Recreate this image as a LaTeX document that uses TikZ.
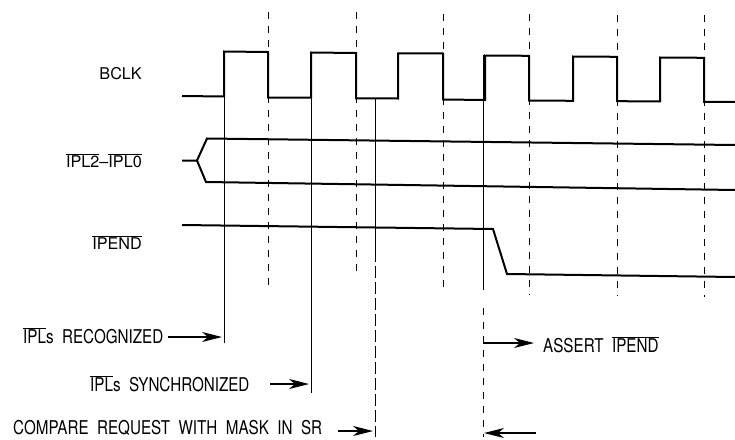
\documentclass[tikz,border=0pt]{standalone}
\usepackage{fontspec}
\setmainfont{TeX Gyre Heros}
\newfontfamily\condfont{TeX Gyre Heros}[WordSpace=2.0]
\usetikzlibrary{arrows.meta}
\newcommand\ovl[1]{\ensuremath{\overline{\mbox{#1}}}}
\newcommand\cond[1]{\scalebox{0.8}[1]{#1}}
\begin{document}
\begin{tikzpicture}[x=1pt,y=-1pt,
  sig/.style={line width=2pt,line join=miter},
  guide/.style={line width=0.9pt},
  tick/.style={line width=0.9pt,dash pattern=on 7pt off 7pt},
  loosedash/.style={line width=0.9pt,dash pattern=on 12pt off 4pt},
  tip/.style={line width=1.1pt,-{Stealth[length=20pt,width=10pt,inset=6pt]}},
  lab/.style={anchor=base east,inner sep=0pt,font=\fontsize{16.2}{18}\selectfont},
  blab/.style={anchor=base west,inner sep=0pt,font=\condfont\fontsize{19}{21}\selectfont}]
\useasboundingbox (0,0) rectangle (735,439);

% labels
\node[lab] (bclk) at (142,79) {BCLK};
\node[lab] (ipl) at (142,167) {\ovl{IPL2}--\ovl{IPL0}};
\node[lab] (ipend) at (142,249) {\ovl{IPEND}};

% dashed reference lines at falling edges
\draw[tick] (268,12) -- (268,290);
\draw[tick] (356,12) -- (356,277);
\draw[tick] (443,14) -- (443,292);
\draw[tick] (529,14) -- (529,295);
\draw[tick] (617,15) -- (617,296);
\draw[tick] (704,15) -- (704,297);

% solid reference lines
\coordinate (r1) at (224,343);
\coordinate (r2) at (311,393);
\draw[guide] (224,52) -- (r1);
\draw[guide] (311,53) -- (r2);
\draw[guide] (375,98) -- (375,250);
\draw[loosedash] (375,250) -- (375,437);
\draw[guide] (483,55) -- (483,290);
\draw[tick] (483,308) -- (483,437);

% BCLK
\draw[sig] (182,96) -- (224,96.5) -- (224,51.5) -- (268,52) -- (268,97.5) -- (311,97.7)
  -- (311,52.5) -- (356,53) -- (356,98.3) -- (398,98.5) -- (398,53.3) -- (443,53.5)
  -- (443,99.5) -- (485,100) -- (485,55.5) -- (529,55.8) -- (529,100.5) -- (573,100.8)
  -- (573,56.5) -- (617,56.8) -- (617,101.2) -- (660,101.4) -- (660,57.5) -- (704,57.8)
  -- (704,101.8) -- (735,102);

% IPL2-IPL0 bus
\draw[sig] (182,160.5) -- (197,160.5) -- (207,138.5) -- (735,145);
\draw[sig] (197,160.5) -- (206,182) -- (735,190);

% IPEND
\draw[sig] (182,225) -- (493,229) -- (507,274) -- (735,277);

% bottom annotations
\node[blab] (rec) at (23,343) {\cond{\ovl{IPL}s RECOGNIZED}};
\node[blab] (syn) at (90,391) {\cond{\ovl{IPL}s SYNCHRONIZED}};
\node[blab] (cmp) at (13,434) {\cond{COMPARE REQUEST WITH MASK IN SR}};
\node[blab] (ast) at (543,352) {\cond{ASSERT \ovl{IPEND}}};

\coordinate (a1s) at (168,337);
\coordinate (a1e) at (222,337);
\draw[tip] (a1s) -- (a1e);
\coordinate (a2s) at (270,384);
\coordinate (a2e) at (309,384);
\draw[tip] (a2s) -- (a2e);
\coordinate (a3s) at (338,431);
\coordinate (a3e) at (373,431);
\draw[tip] (a3s) -- (a3e);
\coordinate (a4s) at (483,343);
\coordinate (a4e) at (534,343);
\draw[tip] (a4s) -- (a4e);
\coordinate (a5s) at (536,433);
\coordinate (a5e) at (484,433);
\draw[tip] (a5s) -- (a5e);
\end{tikzpicture}
\end{document}
